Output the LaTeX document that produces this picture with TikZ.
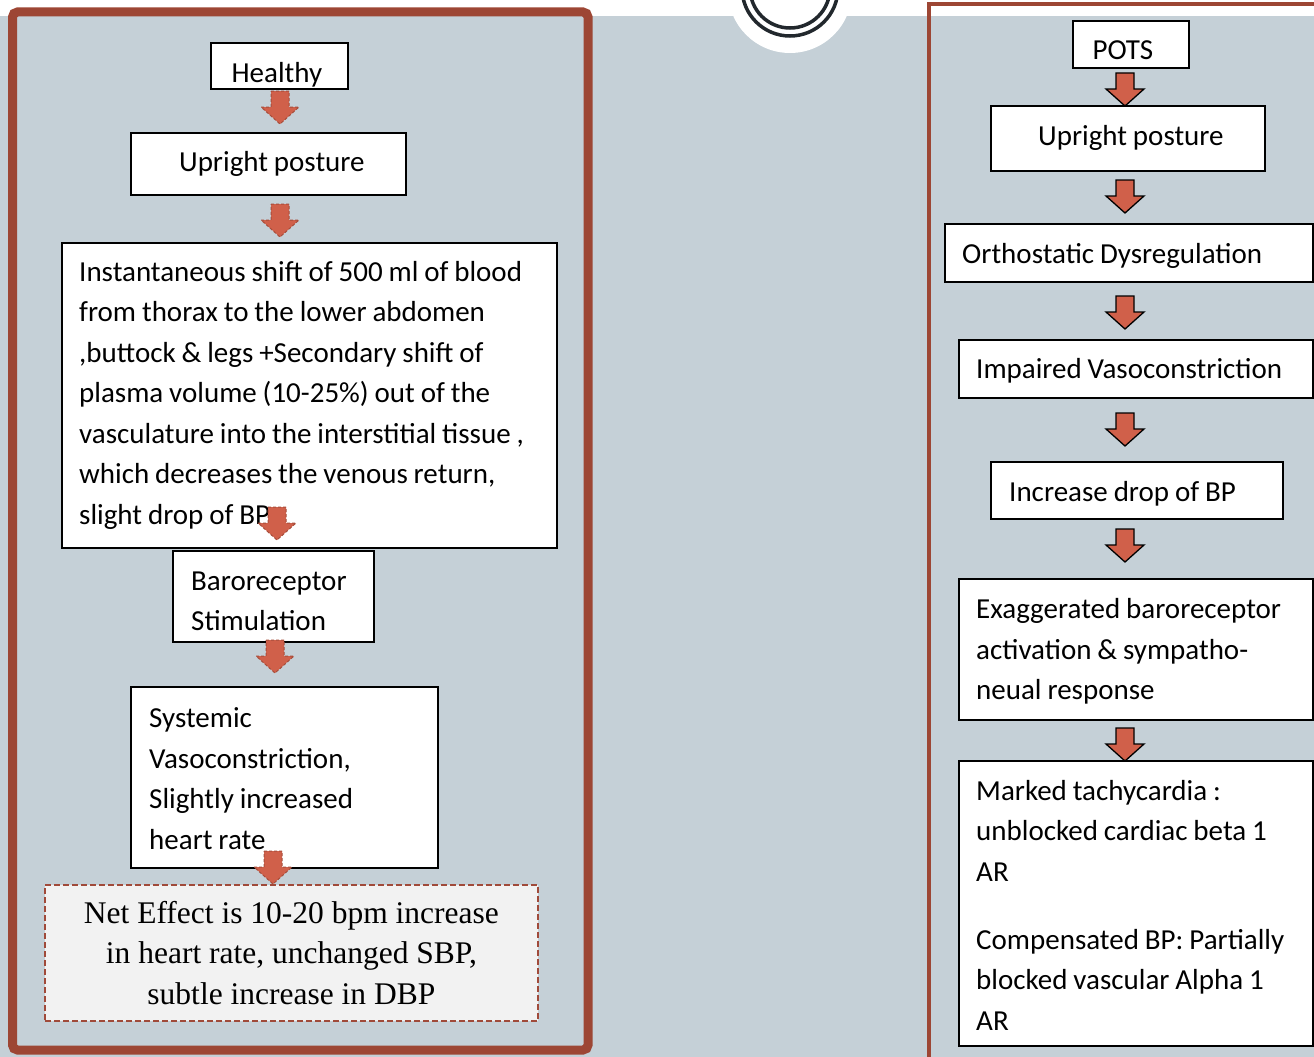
\documentclass[tikz,border=0pt]{standalone}
\usepackage{fontspec}
\setmainfont{Carlito}[WordSpace=0.9]
\newfontfamily\netfont{Liberation Serif}
\usetikzlibrary{calc}
\definecolor{bgc}{HTML}{C5D0D7}
\definecolor{panelc}{HTML}{9D4634}
\definecolor{ringc}{HTML}{22282D}
\definecolor{arrowc}{HTML}{D0604A}
\definecolor{netc}{HTML}{A04A3A}
\definecolor{netfill}{HTML}{F2F2F2}
\begin{document}
\begin{tikzpicture}[x=1pt,y=-1pt,
  box/.style={draw=black, line width=1.8, fill=white, inner sep=0, anchor=north west,
    font=\fontsize{29}{40.5}\selectfont},
  txt/.style={anchor=west, align=left, inner sep=0, font=\fontsize{29}{40.5}\selectfont},
  arrL/.style={fill=arrowc, draw=arrowc!80!black, densely dashed, line width=1},
  arrR/.style={fill=arrowc, draw=black, line width=1.3},
  blockarrow/.pic={\path[pic actions] (-9,0) -- (9,0) -- (9,16) -- (19,16) -- (0,33) -- (-19,16) -- (-9,16) -- cycle;}
]
\useasboundingbox (0,0) rectangle (1314,1057);
\clip (0,0) rectangle (1314,1057);
% background
\fill[bgc] (0,0) rectangle (1314,1057);
\fill[white] (0,0) rectangle (1314,16);
\fill[white] (790,-9) circle[radius=62pt];
\draw[ringc, line width=3.5] (790,-12) circle[radius=48pt];
\draw[ringc, line width=3.5] (790,-12) circle[radius=40pt];
% panels
\draw[panelc, line width=9, rounded corners=5] (12.5,12) rectangle (588,1050);
\draw[panelc, line width=4] (929,1080) -- (929,4) -- (1340,4);

% left column
\node[box, minimum width=137, text height=40, text depth=6] (healthy) at (210,42) {Healthy\kern5pt};
\node[box, minimum width=275, minimum height=62] (upL) at (130,132) {\kern7pt Upright posture};
\node[box, minimum width=495, minimum height=305] (shift) at (61,242) {};
\node[txt] (shiftT) at ($(shift.west)+(18,0)$)
  {Instantaneous shift of 500 ml of blood\\ from thorax to the lower abdomen\\ ,buttock \& legs +Secondary shift of\\ plasma volume (10-25\%) out of the\\ vasculature into the interstitial tissue ,\\ which decreases the venous return,\\ slight drop of BP};
\node[box, minimum width=201, minimum height=91] (baro) at (172,550) {};
\node[txt] (baroT) at ($(baro.west)+(19,5)$) {Baroreceptor\\ Stimulation};
\node[box, minimum width=307, minimum height=181] (syst) at (130,686) {};
\node[txt] (systT) at ($(syst.west)+(19,1)$)
  {Systemic\\ Vasoconstriction,\\ Slightly increased\\ heart rate};
\node[draw=netc, dash pattern=on 6pt off 3pt, fill=netfill, line width=1.8, anchor=north west, minimum width=493,
  minimum height=136, align=center, inner sep=0,
  font=\netfont\fontsize{31.5}{40.5}\selectfont] (net) at (44,884)
  {Net Effect is 10-20 bpm increase\\ in heart rate, unchanged SBP,\\ subtle increase in DBP};

% right column
\node[box, minimum width=116, text height=39, text depth=8] (pots) at (1072,20) {POTS\kern16pt};
\node[box, minimum width=274, minimum height=65] (upR) at (990,105) {\kern6pt Upright posture};
\node[box, minimum width=368, minimum height=58] (ortho) at (944,223) {};
\node[txt] (orthoT) at ($(ortho.west)+(18,3)$) {Orthostatic Dysregulation};
\node[box, minimum width=354, minimum height=58] (impair) at (958,339) {};
\node[txt] (impairT) at ($(impair.west)+(18,2)$) {Impaired Vasoconstriction};
\node[box, minimum width=292, minimum height=57] (incr) at (990,461) {};
\node[txt] (incrT) at ($(incr.west)+(19,3)$) {Increase drop of BP};
\node[box, minimum width=354, minimum height=141] (exag) at (958,578) {};
\node[txt] (exagT) at ($(exag.west)+(18,2)$)
  {Exaggerated baroreceptor\\ activation \& sympatho-\\ neual response};
\node[box, minimum width=354, minimum height=285] (marked) at (958,760) {};
\node[txt] (markedT) at ($(marked.west)+(18,2)$)
  {Marked tachycardia :\\ unblocked cardiac beta 1\\ AR\\[27.5pt] Compensated BP: Partially\\ blocked vascular Alpha 1\\ AR};

% arrows left
\pic[arrL] (aL1) at (280,91) {blockarrow};
\pic[arrL] (aL2) at (280,204) {blockarrow};
\pic[arrL] (aL3) at (277,507) {blockarrow};
\pic[arrL] (aL4) at (275,640) {blockarrow};
\pic[arrL] (aL5) at (273,851) {blockarrow};
% arrows right
\pic[arrR] (aR1) at (1125,73) {blockarrow};
\pic[arrR] (aR2) at (1125,180) {blockarrow};
\pic[arrR] (aR3) at (1125,296) {blockarrow};
\pic[arrR] (aR4) at (1125,413) {blockarrow};
\pic[arrR] (aR5) at (1125,529) {blockarrow};
\pic[arrR] (aR6) at (1125,728) {blockarrow};
\end{tikzpicture}
\end{document}
